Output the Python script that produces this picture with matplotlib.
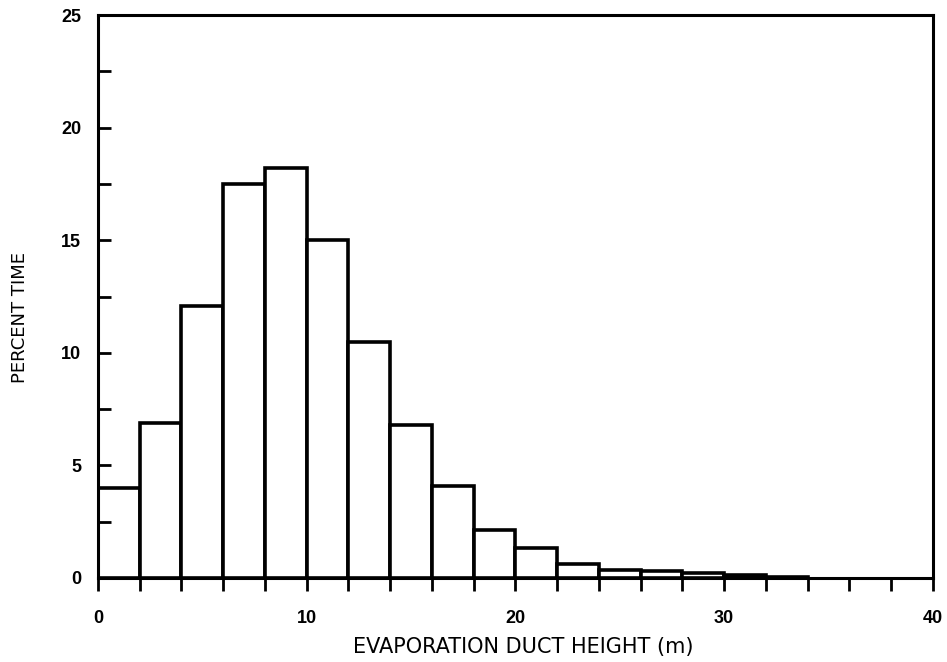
import numpy as np
import matplotlib
matplotlib.use('Agg')
import matplotlib.pyplot as plt

# duct height bins (m) and percent time in each
bin_left = [0, 2, 4, 6, 8, 10, 12, 14, 16, 18, 20, 22, 24, 26, 28, 30, 32]
percent = [4.0, 6.9, 12.1, 17.5, 18.2, 15.0, 10.5, 6.8, 4.1, 2.15, 1.35,
           0.62, 0.37, 0.3, 0.2, 0.12, 0.05]
bin_width = 2.0

plt.rcParams['font.family'] = 'Liberation Sans'

fig = plt.figure(figsize=(9.47, 6.62), dpi=100)
ax = fig.add_axes([0.1035, 0.127, 0.8815, 0.85])

ax.bar(bin_left, percent, width=bin_width, align='edge',
       facecolor='white', edgecolor='black', linewidth=2.6)

ax.set_xlim(0, 40)
ax.set_ylim(0, 25)

ax.set_xticks([0, 10, 20, 30, 40])
ax.set_xticks(np.arange(0, 41, 2), minor=True)
ax.set_yticks([0, 5, 10, 15, 20, 25])
ax.set_yticks(np.arange(0, 25.1, 2.5), minor=True)

ax.tick_params(axis='x', which='both', direction='out', length=9, width=2,
               pad=14, labelsize=13)
ax.tick_params(axis='y', which='both', direction='in', length=9, width=2,
               pad=12, labelsize=13)
for lab in ax.get_xticklabels() + ax.get_yticklabels():
    lab.set_fontweight('bold')

for sp in ax.spines.values():
    sp.set_linewidth(2.2)

ax.set_xlabel('EVAPORATION DUCT HEIGHT (m)', fontsize=15,
              family='DejaVu Sans', va='center')
ax.xaxis.set_label_coords(0.509, -0.1226)
ax.set_ylabel('PERCENT TIME', fontsize=13, family='DejaVu Sans',
              va='center', ha='center')
ax.yaxis.set_label_coords(-0.0934, 0.462)

fig.savefig('out.png', dpi=100)
